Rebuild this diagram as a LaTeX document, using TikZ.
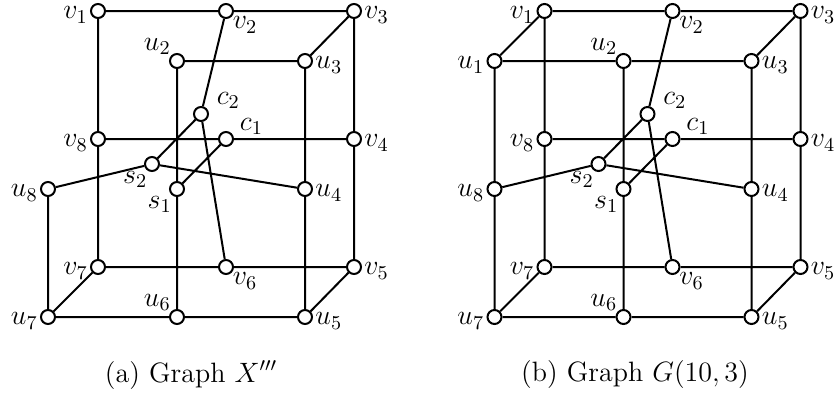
\RequirePackage{fix-cm}
\documentclass[tikz,border=0pt]{standalone}
\tikzset{
  vtx/.style={circle,draw,fill=white,line width=1pt,minimum size=7pt,inner sep=0pt},
  edge/.style={line width=1pt},
  lbl/.style={font=\fontsize{14}{16}\selectfont,inner sep=0.5pt},
  every label/.style={lbl},
  label distance=0.5pt,
  sidel/.style={yshift=-2pt}
}
\newcommand\mygraph[1]{%
  \node[vtx,label={[sidel]left:$v_1$}] (#1v1) at (98,11) {};
  \node[vtx,label={[label distance=-0.5pt]-40:$v_2$}] (#1v2) at (226,11) {};
  \node[vtx,label={[sidel]right:$v_3$}] (#1v3) at (354,11) {};
  \node[vtx,label={[label distance=-0.5pt]above left:$u_2$}] (#1u2) at (177,61) {};
  \node[vtx,label={[sidel]right:$u_3$}] (#1u3) at (305,61) {};
  \node[vtx,label={[label distance=3.5pt]15:$c_2$}] (#1c2) at (201,114) {};
  \node[vtx,label={[label distance=2.5pt]15:$c_1$}] (#1c1) at (226,139) {};
  \node[vtx,label={[sidel]left:$v_8$}] (#1v8) at (98,139) {};
  \node[vtx,label={[sidel]right:$v_4$}] (#1v4) at (354,139) {};
  \node[vtx,label={[label distance=-0.5pt]-120:$s_2$}] (#1s2) at (152,164) {};
  \node[vtx,label={[label distance=-0.5pt]-125:$s_1$}] (#1s1) at (177,189) {};
  \node[vtx,label={[sidel]left:$u_8$}] (#1u8) at (48,189) {};
  \node[vtx,label={[sidel]right:$u_4$}] (#1u4) at (305,189) {};
  \node[vtx,label={[sidel]left:$v_7$}] (#1v7) at (98,267) {};
  \node[vtx,label={[label distance=-0.5pt]-40:$v_6$}] (#1v6) at (226,267) {};
  \node[vtx,label={[sidel]right:$v_5$}] (#1v5) at (354,267) {};
  \node[vtx,label={[sidel]left:$u_7$}] (#1u7) at (48,317) {};
  \node[vtx,label={[label distance=-0.5pt]above left:$u_6$}] (#1u6) at (177,317) {};
  \node[vtx,label={[sidel]right:$u_5$}] (#1u5) at (305,317) {};
  \draw[edge] (#1v1) -- (#1v2) (#1v2) -- (#1v3) (#1v1) -- (#1v8) (#1v8) -- (#1v7)
    (#1v3) -- (#1v4) (#1v4) -- (#1v5) (#1v7) -- (#1v6) (#1v6) -- (#1v5)
    (#1v8) -- (#1c1) (#1c1) -- (#1v4) (#1u2) -- (#1u3) (#1u3) -- (#1v3)
    (#1u2) -- (#1s1) (#1s1) -- (#1u6) (#1u3) -- (#1u4) (#1u4) -- (#1u5)
    (#1u8) -- (#1u7) (#1u7) -- (#1u6) (#1u6) -- (#1u5) (#1u7) -- (#1v7)
    (#1u5) -- (#1v5) (#1v2) -- (#1c2) (#1c2) -- (#1v6) (#1c2) -- (#1s2)
    (#1s2) -- (#1u8) (#1s2) -- (#1u4) (#1s1) -- (#1c1);
}
\begin{document}
\begin{tikzpicture}[x=0.5pt,y=-0.5pt]
  \useasboundingbox (0,0) rectangle (840,398);
  \begin{scope}
    \mygraph{a}
  \end{scope}
  \begin{scope}[xshift=223.25pt]
    \mygraph{b}
    \node[vtx,label={[sidel]left:$u_1$}] (bu1) at (48,61) {};
    \draw[edge] (bu1) -- (bv1) (bu1) -- (bu2) (bu1) -- (bu8);
  \end{scope}
  \node[lbl] (capa) at (191,375) {(a) Graph $X'''$};
  \node[lbl] (capb) at (635,375) {(b) Graph $G(10,3)$};
\end{tikzpicture}
\end{document}
